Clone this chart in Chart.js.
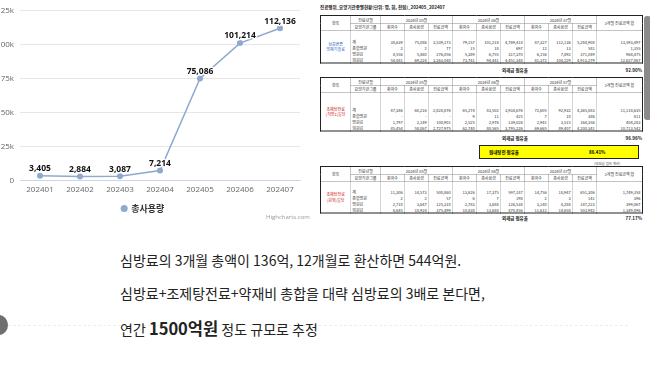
<!DOCTYPE html>
<html>
<head>
<meta charset="utf-8">
<script src="https://cdn.jsdelivr.net/npm/chart.js@4"></script>
<style>
  body { margin:0; width:650px; height:372px; overflow:hidden; background:#fff; position:relative;
         font-family:"Noto Sans CJK KR","Noto Sans",sans-serif; }
  #chartBox { position:absolute; left:-14px; top:0; width:320px; height:237px; }
  .credit { position:absolute; left:266px; top:213px; font-size:6px; color:#999; font-family:"Open Sans",sans-serif; }
  #sheet { position:absolute; left:318px; top:0; width:660px; height:460px; transform:scale(.5); transform-origin:0 0; }
  #sheet .title { position:absolute; left:4px; top:8px; font-size:9px; font-weight:bold; color:#222; }
  #sheet table { position:absolute; left:4px; width:644px; border-collapse:collapse; table-layout:fixed;
                 border:2px solid #222; font-size:8px; color:#333; }
  #sheet td { border-left:1px solid #aaa; border-right:1px solid #aaa; padding:0 3px; white-space:nowrap; overflow:hidden; }
  #sheet tr.h td { border:1px solid #888; text-align:center; height:14px; }
  #sheet td.num { text-align:right; }
  #sheet td.item { text-align:center; white-space:normal; line-height:11px; }
  #sheet .share { position:absolute; left:4px; width:644px; font-size:9px; font-weight:bold; color:#222; height:14px; }
  #sheet .share span { position:absolute; }
  #sheet .yellow { position:absolute; left:322px; top:290px; width:316px; height:24px; background:#ffff00;
                   border:2px solid #222; font-size:9px; font-weight:bold; }
  #sheet .note { position:absolute; left:552px; top:321px; font-size:7px; color:#555; }
  .bar { position:absolute; left:644px; top:16px; width:7px; height:104px; background:#8a8a8a; border-radius:3px; }
  .dot { position:absolute; left:-10px; top:315px; width:18px; height:20px; border-radius:50%; background:#6f6f6f; }
  .rule { position:absolute; left:8px; top:325px; width:620px; border-top:1px dashed #eee; }
  .txt { position:absolute; left:120px; font-size:14px; color:#222; white-space:nowrap; letter-spacing:0; font-weight:400; }
  .txt b { font-size:16.5px; font-weight:700; }
</style>
</head>
<body>
<div id="chartBox"><canvas id="usageChart"></canvas></div>
<div class="credit">Highcharts.com</div>
<div id="sheet"></div>
<div class="bar"></div>
<div class="rule"></div>
<div class="dot"></div>
<div class="txt" style="top:250px">심방료의 3개월 총액이 136억, 12개월로 환산하면 544억원.</div>
<div class="txt" style="top:283px">심방료+조제탕전료+약재비 총합을 대략 심방료의 3배로 본다면,</div>
<div class="txt" style="top:316px">연간 <b>1500억원</b> 정도 규모로 추정</div>

<script>
// chart data
var months = ['202401', '202402', '202403', '202404', '202405', '202406', '202407'];
var usage = [3405, 2884, 3087, 7214, 75086, 101214, 112136];
var seriesName = '총사용량';
var yMax = 125000;
var yStep = 25000;

// spreadsheet on the right
var monthHeads = ['2024년 05월', '2024년 06월', '2024년 07월'];
var colHeads = ['환자수', '총사용량', '진료금액'];
var groups = ['계', '종합병원', '병원급', '의원급'];
var table1 = [
    ['38,639', '75,086', '3,539,173', '79,157', '101,214', '4,769,414', '87,327', '112,136', '5,284,908', '13,593,497'],
    ['2', '2', '77', '15', '18', '697', '12', '13', '581', '1,355'],
    ['4,556', '5,860', '276,056', '5,389', '6,755', '317,370', '6,156', '7,892', '371,049', '964,475'],
    ['54,081', '69,224', '3,263,040', '73,741', '94,441', '4,451,348', '81,372', '104,229', '4,913,279', '12,627,867']
];
var table2 = [
    ['47,346', '60,216', '2,828,876', '65,274', '83,502', '3,934,676', '72,605', '92,932', '4,365,083', '11,118,635'],
    ['-', '-', '-', '9', '11', '425', '7', '10', '386', '811'],
    ['1,797', '2,149', '100,901', '2,525', '2,976', '139,026', '2,941', '3,515', '164,356', '404,283'],
    ['45,454', '58,067', '2,727,975', '62,740', '80,565', '3,795,226', '69,665', '89,407', '4,200,341', '10,713,542']
];
var table3 = [
    ['11,306', '14,573', '500,860', '13,626', '17,375', '597,187', '14,756', '18,947', '651,306', '1,749,358'],
    ['2', '2', '57', '6', '7', '198', '2', '3', '141', '396'],
    ['2,710', '3,647', '125,310', '2,783', '3,684', '126,534', '3,140', '4,284', '147,223', '399,067'],
    ['8,645', '10,924', '375,499', '10,838', '13,684', '470,456', '11,612', '14,658', '503,942', '1,349,896']
];

function buildTable(rows, item, color, top, firstH) {
    var html = '<table style="top:' + top + 'px"><colgroup><col style="width:60px"><col style="width:60px">';
    for (var i = 0; i < 9; i++) html += '<col style="width:48px">';
    html += '<col style="width:92px"></colgroup>';
    html += '<tr class="h"><td rowspan="2">항목</td><td>진료년월</td>';
    monthHeads.forEach(function (m) { html += '<td colspan="3">' + m + '</td>'; });
    html += '<td rowspan="2">3개월 진료금액 합</td></tr><tr class="h"><td>요양기관그룹</td>';
    monthHeads.forEach(function () { colHeads.forEach(function (c) { html += '<td>' + c + '</td>'; }); });
    html += '</tr>';
    rows.forEach(function (r, i) {
        var h = i === 0 ? firstH : 12;
        html += '<tr style="height:' + h + 'px">';
        if (i === 0) html += '<td class="item" rowspan="4" style="color:' + color + '">' + item + '</td>';
        html += '<td style="vertical-align:bottom">' + groups[i] + '</td>';
        r.forEach(function (v) { html += '<td class="num" style="vertical-align:bottom">' + v + '</td>'; });
        html += '</tr>';
    });
    return html + '</table>';
}

function shareRow(label, value, top) {
    return '<div class="share" style="top:' + top + 'px"><span style="left:364px">' + label +
        '</span><span style="right:0">' + value + '</span></div>';
}

var sheet = document.getElementById('sheet');
sheet.innerHTML =
    '<div class="title">진료행위_요양기관종별현황(단위: 명, 회, 천원)_202405_202407</div>' +
    buildTable(table1, '심층변증<br>방제기술료', '#1f5fbf', 30, 28) +
    shareRow('외래급 점유율', '92.90%', 134) +
    buildTable(table2, '조제탕전료<br>(처방1)일당', '#d01010', 154, 40) +
    shareRow('외래급 점유율', '96.96%', 270) +
    '<div class="yellow"><span style="position:absolute;left:18px;top:5px">원내탕전 점유율</span>' +
    '<span style="position:absolute;left:218px;top:5px">86.41%</span></div>' +
    '<div class="note">(의원급 점유 계산)</div>' +
    buildTable(table3, '조제탕전료<br>(원외)일당', '#d01010', 332, 26) +
    shareRow('외래급 점유율', '77.17%', 430);

// numbers above each point
var valueLabels = {
    id: 'valueLabels',
    afterDatasetsDraw: function (chart) {
        var ctx = chart.ctx;
        var meta = chart.getDatasetMeta(0);
        ctx.save();
        ctx.font = 'bold 8.5px "Open Sans", sans-serif';
        ctx.textAlign = 'center';
        ctx.textBaseline = 'middle';
        ctx.lineJoin = 'round';
        meta.data.forEach(function (pt, i) {
            var txt = usage[i].toLocaleString('en-US');
            ctx.strokeStyle = '#fff';
            ctx.lineWidth = 2.5;
            ctx.strokeText(txt, pt.x, pt.y - 7);
            ctx.fillStyle = '#111';
            ctx.fillText(txt, pt.x, pt.y - 7);
        });
        ctx.restore();
    }
};

var ctx = document.getElementById('usageChart').getContext('2d');
var chart = new Chart(ctx, {
    type: 'line',
    data: {
        labels: months,
        datasets: [
            {
                label: seriesName,
                data: usage,
                borderColor: '#8ea9cf',
                backgroundColor: '#8ea9cf',
                borderWidth: 1.5,
                pointRadius: 3,
                pointBorderWidth: 0,
                tension: 0,
            }
        ]
    },
    options: {
        responsive: true,
        maintainAspectRatio: false,
        animation: false,
        layout: {
            padding: { top: 10, right: 6, bottom: 14, left: 0 }
        },
        plugins: {
            legend: {
                display: true,
                position: 'bottom',
                labels: {
                    usePointStyle: true,
                    boxWidth: 5,
                    boxHeight: 5,
                    padding: 4,
                    color: '#333',
                    font: { size: 9, weight: 'bold', family: '"Noto Sans CJK KR", sans-serif' }
                }
            },
            tooltip: { enabled: false }
        },
        scales: {
            x: {
                offset: true,
                grid: { display: false, drawTicks: false },
                border: { color: '#ccd6eb' },
                ticks: {
                    color: '#666',
                    padding: 5,
                    maxRotation: 0,
                    font: { size: 8, family: '"Open Sans", sans-serif' }
                }
            },
            y: {
                min: 0,
                max: yMax,
                afterFit: function (s) { s.width = 34; },
                grid: { color: '#e6e6e6', drawTicks: false },
                border: { display: false },
                ticks: {
                    stepSize: yStep,
                    padding: 6,
                    color: '#666',
                    font: { size: 8, family: '"Open Sans", sans-serif' },
                    callback: function (v) { return v === 0 ? '0' : (v / 1000) + 'k'; }
                }
            }
        }
    },
    plugins: [valueLabels]
});
</script>
</body>
</html>
